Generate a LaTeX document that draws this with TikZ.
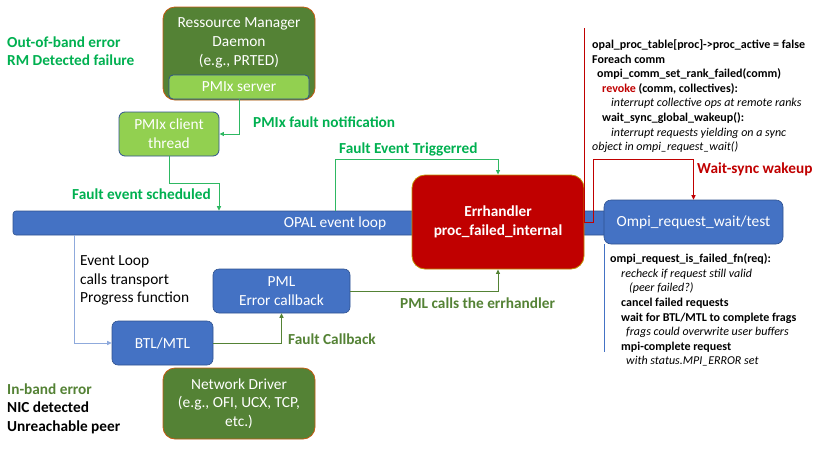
\documentclass[tikz,border=0pt]{standalone}
\usepackage{fontspec}
\setmainfont{Carlito}
\usetikzlibrary{arrows.meta}
\definecolor{dkgreen}{HTML}{548235}
\definecolor{ltgreen}{HTML}{92D050}
\definecolor{lblgreen}{HTML}{00B050}
\definecolor{arrgreen}{HTML}{2EB862}
\definecolor{olive}{HTML}{548235}
\definecolor{boxblue}{HTML}{4472C4}
\definecolor{boxborder}{HTML}{2F528F}
\definecolor{errred}{HTML}{C00000}
\definecolor{goldb}{HTML}{BF9000}
\definecolor{orangeb}{HTML}{C55A11}
\definecolor{ltblue}{HTML}{8FAADC}
\definecolor{dkred}{HTML}{C00000}
\newcommand\itx[1]{{\itshape #1}}
\tikzset{
  big/.style={font=\fontsize{15.4}{18.7}\selectfont},
  bigb/.style={font=\fontsize{15.3}{18.5}\selectfont\bfseries},
  small/.style={font=\fontsize{12}{14.6}\selectfont},
  greenbox/.style={draw=orangeb, fill=dkgreen, rounded corners=12pt, line width=0.8pt, inner sep=0pt},
  litebox/.style={draw=boxborder, fill=ltgreen, rounded corners=6pt, line width=0.8pt, inner sep=0pt, text=white, big, align=center},
  bluebox/.style={draw=boxborder, fill=boxblue, rounded corners=6pt, line width=0.6pt, inner sep=0pt, text=white, big, align=center},
  tip/.style={-{Triangle[length=4.5pt,width=4pt]}},
  lbl/.style={bigb, anchor=west, inner sep=0pt},
}
\begin{document}
\begin{tikzpicture}[x=1pt,y=-1pt]
\useasboundingbox (0,0) rectangle (830,467);

% event loop bar
\node[bluebox, rounded corners=3pt, minimum width=597pt, minimum height=24pt] (bar) at (311.5,223) {};
\node[big, text=white, inner sep=0pt] (bartext) at (335,223) {OPAL event loop};

% RM daemon
\node[greenbox, minimum width=152pt, minimum height=93pt] (rm) at (239,53.5) {};
\node[big, text=white, align=center, inner sep=0pt] (rmtext) at (239,43) {Ressource Manager\\Daemon\\(e.g., PRTED)};
\node[litebox, minimum width=140pt, minimum height=24pt, rounded corners=4pt] (srv) at (239,87) {PMIx server};

% PMIx client
\node[litebox, minimum width=100pt, minimum height=44pt] (client) at (169,134) {PMIx client\\thread};

% errhandler
\node[draw=goldb, fill=errred, rounded corners=13pt, line width=0.8pt, minimum width=172pt, minimum height=94pt, text=white, bigb, align=center, inner sep=0pt] (err) at (498,222) {Errhandler\\proc\_failed\_internal};

% Ompi request
\node[bluebox, minimum width=179pt, minimum height=44pt, rounded corners=7pt] (ompi) at (693.5,222) {Ompi\_request\_wait/test};

% PML and BTL
\node[bluebox, minimum width=137pt, minimum height=44pt] (pml) at (281.5,291) {PML\\Error callback};
\node[bluebox, minimum width=101pt, minimum height=44pt] (btl) at (162.5,343) {BTL/MTL};

% Network driver
\node[greenbox, minimum width=152pt, minimum height=71pt, text=white, big, align=center] (net) at (239,403.5) {Network Driver\\(e.g., OFI, UCX, TCP,\\etc.)};

% connectors
\draw[arrgreen, line width=1pt, tip] (srv.south) |- (client.east);
\coordinate (fes) at (219,183);
\draw[arrgreen, line width=1pt, tip] (client.south) |- (fes) -- (fes |- bar.north);
\coordinate (fet) at (335,159);
\draw[arrgreen, line width=1pt, tip] (fet |- bar.north) -- (fet) -| (err.north);
\coordinate (ws) at (593,159);
\draw[dkred, line width=1pt, tip] (err.east) -- (err.east -| ws) -- (ws) -| (ompi.north);
\coordinate (rtop) at (584,28);
\draw[dkred, line width=1pt] (rtop) -- (rtop |- err.east);
\coordinate (el) at (74,343);
\draw[ltblue, line width=1pt, tip] (el |- bar.south) -- (el) -- (btl.west);
\draw[olive, line width=1pt, tip] (btl.east) -| (pml.south);
\draw[olive, line width=1pt, tip] (pml.east) -| (err.south);
\coordinate (bl) at (604,352);
\draw[boxblue, line width=1pt] (bl |- ompi.south) -- (bl);

% labels
\node[lbl, text=lblgreen, align=left] (oob) at (7,51) {Out-of-band error\\RM Detected failure};
\node[lbl, text=lblgreen] (pfn) at (253,122) {PMIx fault notification};
\node[lbl, text=lblgreen] (fesl) at (72,194) {Fault event scheduled};
\node[lbl, text=lblgreen] (fetl) at (339,149) {Fault Event Triggerred};
\node[lbl, text=dkred] (wsl) at (697,169) {Wait-sync wakeup};
\node[lbl, text=olive] (fcl) at (288,339) {Fault Callback};
\node[lbl, text=olive] (pmll) at (400,303) {PML calls the errhandler};
\node[big, anchor=west, inner sep=0pt, align=left] (evl) at (80,280.5) {Event Loop\\calls transport\\Progress function};
\node[lbl, align=left] (ib) at (7,408.5) {\textcolor{olive}{In-band error}\\NIC detected\\Unreachable peer};

% text blocks
\node[small, anchor=north west, inner sep=0pt, align=left] (tb1) at (592,39.5) {%
\textbf{opal\_proc\_table[proc]->proc\_active = false}\\
\textbf{Foreach comm}\\
\hspace*{5pt}\textbf{ompi\_comm\_set\_rank\_failed(comm)}\\
\hspace*{10pt}\textbf{\textcolor{dkred}{revoke} (comm, collectives):}\\
\hspace*{19pt}\itx{interrupt collective ops at remote ranks}\\
\hspace*{10pt}\textbf{wait\_sync\_global\_wakeup():}\\
\hspace*{19pt}\itx{interrupt requests yielding on a sync}\\
\itx{object in ompi\_request\_wait()}};

\node[small, anchor=north west, inner sep=0pt, align=left] (tb2) at (610,253.5) {%
\textbf{ompi\_request\_is\_failed\_fn(req):}\\
\hspace*{11pt}\itx{recheck if request still valid}\\
\hspace*{19pt}\itx{(peer failed?)}\\
\hspace*{11pt}\textbf{cancel failed requests}\\
\hspace*{11pt}\textbf{wait for BTL/MTL to complete frags}\\
\hspace*{16pt}\itx{frags could overwrite user buffers}\\
\hspace*{11pt}\textbf{mpi-complete request}\\
\hspace*{16pt}\itx{with status.MPI\_ERROR set}};
\end{tikzpicture}
\end{document}
